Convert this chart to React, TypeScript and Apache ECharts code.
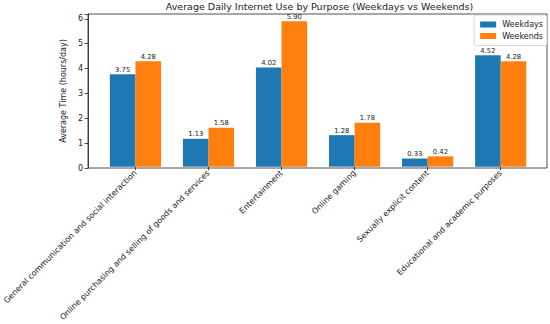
import React, { useEffect, useRef } from "react";
import * as echarts from "echarts";

const categories = [
  "General communication and social interaction",
  "Online purchasing and selling of goods and services",
  "Entertainment",
  "Online gaming",
  "Sexually explicit content",
  "Educational and academic purposes",
];
const weekdays = [3.75, 1.13, 4.02, 1.28, 0.33, 4.52];
const weekends = [4.28, 1.58, 5.9, 1.78, 0.42, 4.28];
const yMax = 6.195;

const FONT = "DejaVu Sans";

export default function App() {
  const ref = useRef<HTMLDivElement>(null);
  useEffect(() => {
    if (!ref.current) return;
    const chart = echarts.init(ref.current, null, { renderer: "svg" });
    const top = 14;
    const height = 154;
    const labelCfg = {
      show: true,
      position: "top" as const,
      distance: 1,
      fontSize: 6.8,
      fontFamily: FONT,
      color: "#222",
      formatter: (p: any) => Number(p.value).toFixed(2),
    };
    chart.setOption({
      animation: false,
      backgroundColor: "#fff",
      title: {
        text: "Average Daily Internet Use by Purpose (Weekdays vs Weekends)",
        left: 319.5,
        textAlign: "center",
        top: 1,
        padding: 0,
        textStyle: { fontFamily: FONT, fontSize: 9.5, fontWeight: "normal", color: "#222" },
      },
      legend: {
        data: ["Weekdays", "Weekends"],
        orient: "vertical",
        right: 3,
        top: 15,
        padding: [5, 4, 5, 6],
        itemGap: 2.5,
        itemWidth: 16,
        itemHeight: 6,
        icon: "rect",
        borderColor: "#ccc",
        borderWidth: 0.8,
        borderRadius: 2,
        backgroundColor: "rgba(255,255,255,0.8)",
        textStyle: { fontFamily: FONT, fontSize: 8, lineHeight: 9, color: "#222", padding: [0, 0, 0, 1] },
      },
      grid: [
        {
          left: 88,
          top,
          width: 459,
          height,
          show: true,
          borderColor: "#222",
          borderWidth: 0.8,
          backgroundColor: "transparent",
        },
        { left: 97.9, top, width: 439.3, height },
      ],
      xAxis: [
        { gridIndex: 0, type: "value", min: 0, max: 1, show: false },
        {
          gridIndex: 1,
          type: "category",
          data: categories,
          axisLine: { show: false },
          axisTick: { show: true, alignWithLabel: true, length: 3.5, lineStyle: { color: "#222", width: 0.8 } },
          axisLabel: {
            rotate: 45,
            interval: 0,
            fontSize: 8,
            fontFamily: FONT,
            color: "#222",
            margin: 5,
          },
        },
      ],
      yAxis: [
        {
          gridIndex: 0,
          type: "value",
          min: 0,
          max: yMax,
          interval: 1,
          name: "Average Time (hours/day)",
          nameLocation: "middle",
          nameGap: 15,
          nameTextStyle: { fontFamily: FONT, fontSize: 8, color: "#222" },
          axisLine: { show: true, lineStyle: { color: "#222", width: 0.8 } },
          axisTick: { show: true, length: 3.5, lineStyle: { color: "#222", width: 0.8 } },
          axisLabel: {
            fontSize: 8,
            fontFamily: FONT,
            color: "#222",
            margin: 5,
            formatter: (v: number) => (Number.isInteger(v) ? String(v) : ""),
          },
          splitLine: { show: false },
        },
        { gridIndex: 1, type: "value", min: 0, max: yMax, show: false },
      ],
      series: [
        {
          name: "Weekdays",
          type: "bar",
          xAxisIndex: 1,
          yAxisIndex: 1,
          data: weekdays,
          barWidth: 25.6,
          barGap: "0%",
          itemStyle: { color: "#1f77b4" },
          label: labelCfg,
        },
        {
          name: "Weekends",
          type: "bar",
          xAxisIndex: 1,
          yAxisIndex: 1,
          data: weekends,
          barWidth: 25.6,
          barGap: "0%",
          itemStyle: { color: "#ff7f0e" },
          label: labelCfg,
        },
      ],
    });
    return () => chart.dispose();
  }, []);
  return <div ref={ref} style={{ width: 550, height: 324, position: "absolute", left: 0, top: 0 }} />;
}
